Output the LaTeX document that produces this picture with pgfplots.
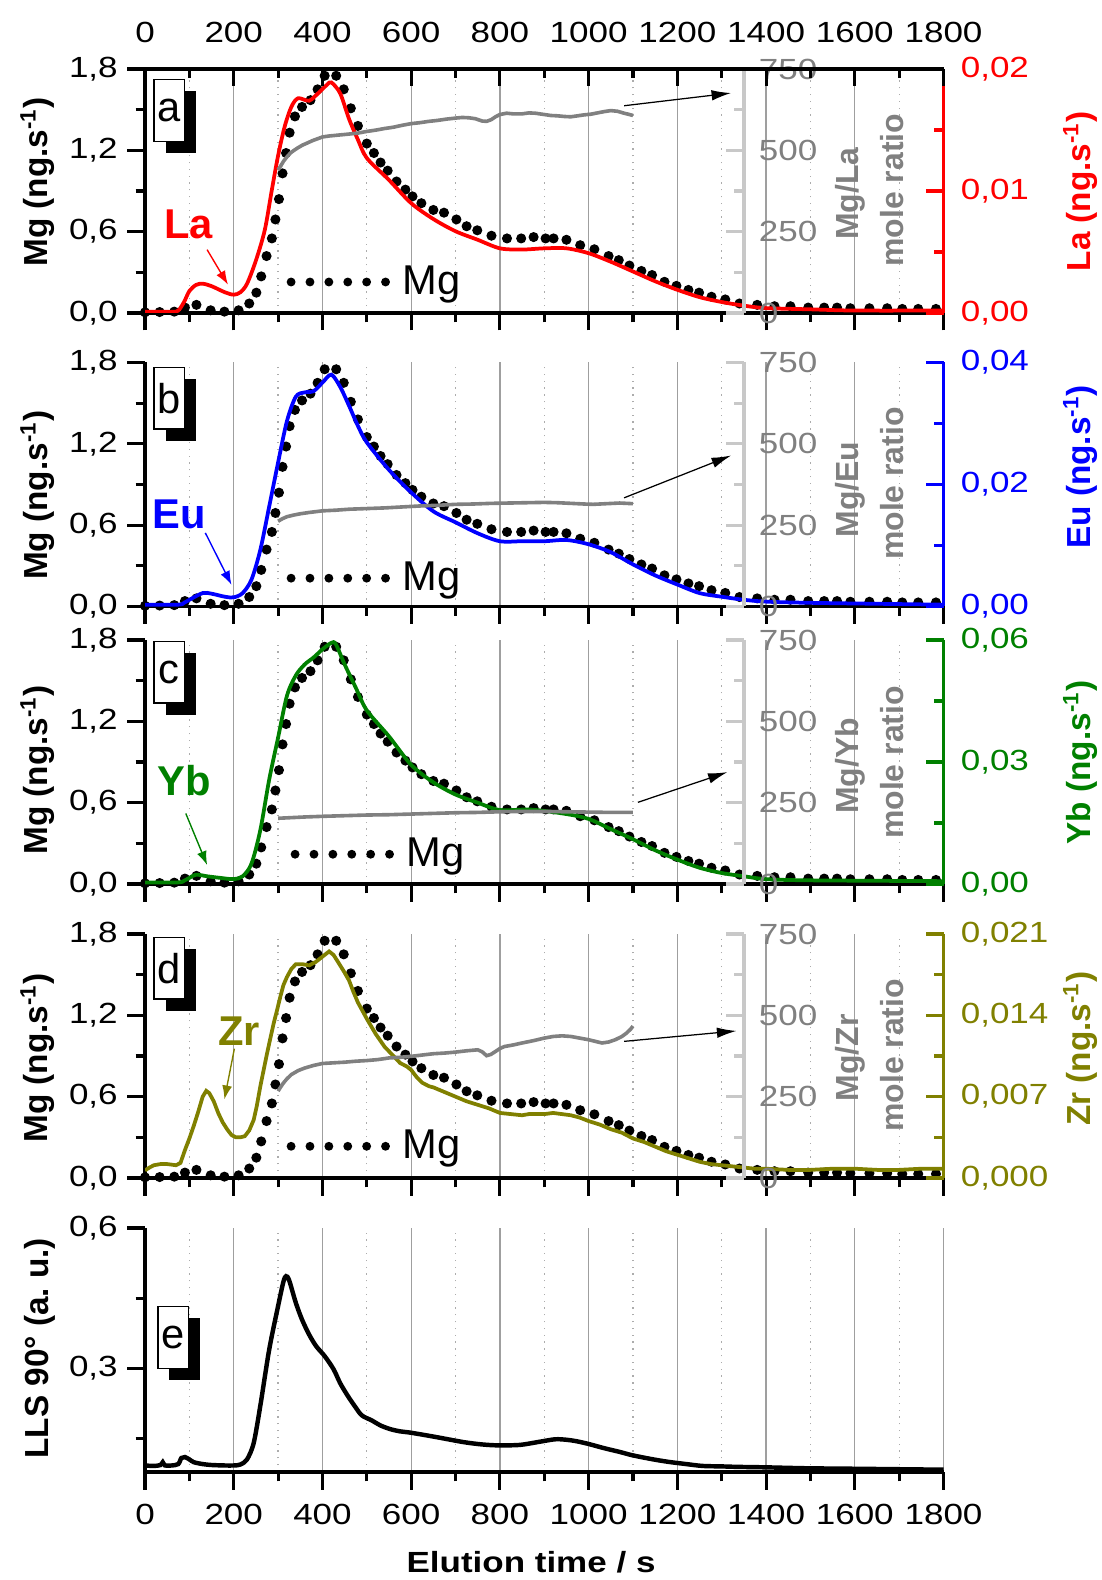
\documentclass[border=0pt]{standalone}
\usepackage{pgfplots}
\pgfplotsset{compat=1.18}
\usepackage{pgfplotstable}
\usepackage{fontspec}
\setmainfont{Liberation Sans}
\newfontfamily\tickfamily{Liberation Sans}[FakeStretch=1.2]
\usetikzlibrary{arrows.meta}

\definecolor{zrc}{RGB}{128,128,0}
\definecolor{ybc}{RGB}{0,128,0}
\definecolor{rgray}{RGB}{128,128,128}
\definecolor{lgray}{RGB}{200,200,200}
\newcommand{\tfont}{\tickfamily\fontsize{10.5}{12}\selectfont}
\newcommand{\rfont}{\fontsize{12}{14}\selectfont}
\newcommand{\mfont}{\fontsize{11.5}{13}\selectfont}
\newcommand{\lfont}{\fontsize{15}{16}\selectfont}

% letter, top offset, height, left offset
\newcommand{\plabel}[4]{%
  \fill[black] ([xshift=#4+4.4pt,yshift=-#2-4.4pt]rel axis cs:0,1) rectangle ++(10.9pt,-#3);
  \node[draw=black, line width=0.5pt, fill=white, anchor=north west, minimum width=10.9pt,
        minimum height=#3, inner sep=0pt, font=\lfont] at ([xshift=#4,yshift=-#2]rel axis cs:0,1) {#1};}

\pgfplotstableread{
t v
0 0.005
33 0.007
66 0.01
90 0.04
116 0.06
148 0.02
179 0.01
211 0.02
235 0.07
251 0.15
262 0.27
274 0.42
286 0.55
294 0.69
302 0.84
310 1.03
318 1.18
326 1.33
338 1.45
354 1.52
373 1.57
389 1.65
405 1.75
431 1.75
448 1.65
464 1.51
480 1.38
500 1.25
516 1.18
531 1.11
547 1.05
567 0.97
587 0.91
603 0.86
623 0.81
650 0.76
674 0.74
702 0.69
725 0.64
749 0.61
781 0.57
816 0.55
848 0.55
876 0.56
903 0.55
921 0.55
950 0.54
981 0.50
1013 0.47
1045 0.42
1068 0.39
1092 0.35
1119 0.31
1143 0.28
1171 0.23
1198 0.20
1225 0.17
1249 0.15
1277 0.12
1308 0.10
1340 0.07
1380 0.06
1419 0.05
1455 0.05
1495 0.04
1531 0.04
1560 0.04
1590 0.035
1633 0.035
1673 0.035
1707 0.03
1743 0.03
1783 0.03
}\mgdata

\pgfplotstableread{
t v
0 0.0001
60 0.0001
75 0.0002
88 0.0009
100 0.0018
115 0.0023
130 0.0024
150 0.0022
180 0.0017
200 0.0015
215 0.0017
230 0.0024
250 0.0043
270 0.0068
285 0.0099
300 0.0129
315 0.0153
330 0.0169
345 0.0176
370 0.0174
390 0.0180
410 0.0187
420 0.0189
440 0.0180
460 0.0159
480 0.0142
500 0.0127
550 0.0109
600 0.0090
650 0.0077
700 0.0067
750 0.0060
800 0.0053
850 0.0052
900 0.0053
950 0.0053
1000 0.0049
1050 0.0042
1100 0.0034
1150 0.0026
1200 0.0019
1250 0.0013
1300 0.0009
1350 0.0006
1400 0.0004
1500 0.0003
1600 0.0002
1800 0.0002
}\ladata

\pgfplotstableread{
t v
0 0.0003
75 0.0003
88 0.0006
100 0.0011
130 0.0022
150 0.0021
180 0.0016
200 0.0015
220 0.0022
240 0.0044
260 0.0093
280 0.0164
300 0.0236
320 0.0304
340 0.0344
360 0.0351
380 0.0353
400 0.0367
420 0.0380
440 0.0360
460 0.0329
480 0.0296
500 0.0269
550 0.0224
600 0.0187
650 0.0156
700 0.0138
750 0.0120
800 0.0107
850 0.0107
900 0.0107
950 0.0109
1000 0.0102
1050 0.0089
1100 0.0069
1150 0.0051
1200 0.0036
1250 0.0022
1300 0.0016
1350 0.0011
1400 0.0008
1500 0.0006
1800 0.0003
}\eudata

\pgfplotstableread{
t v
0 0.0004
75 0.0004
88 0.0008
100 0.0015
115 0.0023
140 0.0019
170 0.0015
200 0.0012
220 0.0019
240 0.0050
260 0.0133
280 0.0257
300 0.0360
320 0.0463
340 0.0513
360 0.0540
380 0.0557
400 0.0577
420 0.0593
430 0.0590
450 0.0540
475 0.0483
500 0.0427
550 0.0363
600 0.0293
650 0.0250
700 0.0220
750 0.0200
800 0.0182
870 0.0183
950 0.0172
1000 0.0160
1050 0.0135
1100 0.0110
1150 0.0083
1200 0.0060
1250 0.0040
1300 0.0027
1350 0.0019
1400 0.0012
1500 0.0009
1800 0.0007
}\ybdata

\pgfplotstableread{
t v
0 0.00065
10 0.0009
20 0.0011
35 0.0012
50 0.0012
70 0.0011
80 0.0013
90 0.0024
100 0.0034
110 0.0045
120 0.0057
130 0.0070
138 0.0075
145 0.0073
155 0.0066
165 0.0056
175 0.0048
185 0.0042
195 0.0037
205 0.0035
215 0.0035
225 0.0036
235 0.0041
245 0.0050
252 0.0062
260 0.0079
268 0.0094
275 0.0107
283 0.0121
290 0.0133
298 0.0145
305 0.0156
312 0.0166
320 0.0173
330 0.0180
340 0.0184
355 0.0184
370 0.0183
385 0.0186
395 0.0189
405 0.0192
415 0.0195
425 0.0192
435 0.0186
448 0.0178
460 0.0170
470 0.0160
480 0.0151
490 0.0144
500 0.0137
520 0.0124
540 0.0113
560 0.0105
575 0.0099
590 0.0096
600 0.0093
612 0.0087
625 0.0082
640 0.0079
650 0.0078
675 0.0074
700 0.0070
725 0.0066
750 0.0063
775 0.0060
800 0.0056
825 0.0055
850 0.0054
865 0.0055
880 0.0055
900 0.0055
920 0.0056
940 0.0055
960 0.0054
980 0.0052
1000 0.0049
1025 0.0046
1050 0.0042
1075 0.0039
1100 0.0034
1125 0.0031
1150 0.0027
1175 0.0023
1200 0.0020
1225 0.0017
1250 0.0014
1275 0.0012
1300 0.0011
1325 0.0010
1350 0.0009
1375 0.0008
1400 0.0008
1450 0.0007
1500 0.0007
1550 0.0008
1600 0.0008
1650 0.0007
1700 0.0007
1750 0.0008
1800 0.0008
}\zrdata

\pgfplotstableread{
t r
300 440
306 452
312 466
320 480
328 492
336 500
345 508
355 516
365 522
378 530
390 536
400 541
415 544
430 546
445 548
460 550
480 553
500 558
520 562
540 567
560 571
580 577
600 582
620 585
640 589
660 592
680 596
700 599
715 601
730 600
745 597
760 590
770 589
780 594
790 603
800 610
815 614
830 612
850 612
865 615
880 614
900 610
915 607
930 606
945 604
960 603
975 606
990 609
1005 611
1020 615
1035 619
1050 622
1065 620
1080 614
1092 610
1100 607
}\laratio

\pgfplotstableread{
t r
300 262
310 270
320 276
335 281
350 285
370 289
400 294
430 296
460 299
500 301
540 303
580 306
620 309
660 311
700 314
740 315
780 317
820 318
860 319
900 320
930 319
960 317
990 315
1010 314
1040 316
1070 318
1100 316
}\euratio

\pgfplotstableread{
t r
300 202
330 204
360 206
400 208
450 210
500 212
550 213
600 215
650 217
700 219
750 220
800 222
850 223
900 223
950 222
1000 221
1050 220
1100 220
}\ybratio

\pgfplotstableread{
t r
300 267
305 278
312 292
320 305
330 318
345 330
360 338
380 346
400 352
425 354
450 356
475 359
500 361
525 364
550 369
575 371
600 374
625 378
650 382
675 384
700 387
725 391
750 394
760 388
770 376
780 380
790 389
800 398
810 404
830 409
850 415
875 422
900 430
920 435
940 437
960 435
980 430
1000 425
1015 420
1030 415
1045 418
1060 425
1075 435
1085 445
1095 458
1100 467
}\zrratio

\pgfplotstableread{
t v
0 0.092
20 0.091
35 0.093
40 0.099
45 0.092
60 0.092
75 0.095
82 0.108
90 0.110
100 0.105
110 0.099
130 0.095
150 0.093
180 0.092
200 0.092
215 0.094
230 0.105
245 0.140
260 0.220
280 0.340
300 0.433
312 0.485
318 0.497
325 0.488
340 0.440
354 0.404
370 0.372
386 0.347
405 0.326
425 0.298
440 0.268
457 0.241
475 0.216
489 0.199
512 0.188
530 0.178
552 0.170
575 0.165
600 0.162
655 0.153
718 0.142
760 0.137
797 0.135
845 0.136
885 0.142
924 0.148
950 0.147
972 0.144
1000 0.138
1035 0.129
1070 0.121
1098 0.114
1140 0.106
1178 0.100
1220 0.095
1257 0.091
1300 0.090
1336 0.089
1400 0.088
1494 0.086
1600 0.085
1700 0.084
1800 0.083
}\llsdata

\pgfplotsset{
  panel/.style={scale only axis, width=287.46pt, height=87.84pt, anchor=south west,
    xmin=0, xmax=1800, clip mode=individual,
    scaled x ticks=false, scaled y ticks=false,
    /pgf/number format/assume math mode=true,
    every tick label/.append style={font=\tfont},
    major tick length=6.3pt, minor tick length=3.4pt},
  blackaxes/.style={axis line style={line width=1.1pt, black},
    tick style={line width=1.1pt, black}},
  xgrid/.style={xmajorgrids, xminorgrids,
    major grid style={line width=0.45pt, color=gray!75, solid},
    minor grid style={line width=0.45pt, color=gray!65, dotted}},
  mgaxis/.style={panel, blackaxes, xgrid, ymin=0, ymax=1.8,
    axis x line*=bottom, axis y line*=left, tick align=outside,
    xtick={0,200,...,1800}, minor xtick={100,300,...,1700}, xticklabels={},
    ytick={0,0.6,1.2,1.8}, yticklabels={{0,0},{0,6},{1,2},{1,8}},
    minor ytick={0.3,0.9,1.5},
    legend image code/.code={%
      \foreach \k in {0,...,5}{\fill[black, draw=none] (\k*6.8pt+1.6pt,0pt) circle[radius=1.6pt];}
      \path[draw=none] (0pt,0pt) -- (41.8pt,0pt);},
    legend style={draw=none, fill=none, anchor=west, inner sep=0pt,
      nodes={inner sep=0pt}, font=\fontsize{15}{16}\selectfont}},
  elaxis/.style={panel, axis x line=none, axis y line*=right, tick align=inside,
    y axis line style={#1, line width=1.1pt}, tick style={#1, line width=1.1pt},
    yticklabel style={text=#1, xshift=2.7pt}},
  ratioaxis/.style={scale only axis, width=215.6pt, height=87.84pt, anchor=south west,
    xmin=0, xmax=1350, ymin=0, ymax=750, clip mode=individual,
    axis x line=none, axis y line*=right, tick align=inside,
    y axis line style={lgray, line width=1.2pt}, tick style={lgray, line width=1.1pt},
    major tick length=6.3pt, minor tick length=3.4pt,
    ytick={0,250,500,750}, yticklabels={0,250,500,750}, minor ytick={125,375,625},
    yticklabel style={text=rgray, font=\tfont, xshift=1.9pt}},
}

\begin{document}
\begin{tikzpicture}
\useasboundingbox (0,0) rectangle (396.36pt,-568.8pt);

% ===================== panel a =====================
\begin{axis}[mgaxis, at={(52.2pt,-112.68pt)}, legend style={at={(axis description cs:0.1767,0.127)}}]
\addplot[only marks, mark=*, mark size=1.6pt, black] table[x=t,y=v] {\mgdata};
\addlegendentry{Mg}
\plabel{a}{3.6pt}{22.2pt}{3pt}
\node[text=red, font=\bfseries\lfont] at (axis cs:98,0.652) {La};
\draw[red, line width=0.5pt, -{Latex[length=5pt,width=3.6pt]}] (axis cs:140,0.467) -- (axis cs:187,0.209);
\node[rotate=90, font=\bfseries\rfont] at (axis description cs:-0.1345,0.537) {Mg (ng.s\textsuperscript{-1})};
\node[rotate=90, text=rgray, font=\bfseries\mfont] at (axis description cs:0.8835,0.489) {Mg/La};
\node[rotate=90, text=rgray, font=\bfseries\mfont] at (axis description cs:0.936,0.503) {mole ratio};
\node[rotate=90, text=red, font=\bfseries\rfont] at (axis description cs:1.1713,0.499) {La (ng.s\textsuperscript{-1})};
\end{axis}
\begin{axis}[elaxis=red, at={(52.2pt,-112.68pt)}, ymin=0, ymax=0.02,
  ytick={0,0.01,0.02}, yticklabels={{0,00},{0,01},{0,02}}, minor ytick={0.005,0.015}]
\addplot[red, line width=1.35pt, smooth] table[x=t,y=v] {\ladata};
\end{axis}
\begin{axis}[ratioaxis, at={(52.2pt,-112.68pt)}]
\addplot[rgray, line width=1.3pt] table[x=t,y=r] {\laratio};
\draw[black, line width=0.45pt, -{Latex[length=7pt,width=3.8pt]}] (axis cs:1080,637) -- (axis cs:1321,676);
\end{axis}
\begin{axis}[panel, blackaxes, at={(52.2pt,-112.68pt)}, ymin=0, ymax=1,
  axis y line=none, axis x line*=top, tick align=inside,
  xtick={0,200,...,1800}, minor xtick={100,300,...,1700},
  xticklabels={0,200,400,600,800,1000,1200,1400,1600,1800},
  xticklabel style={yshift=5.9pt}]
\end{axis}

% ===================== panel b =====================
\begin{axis}[mgaxis, at={(52.2pt,-218.34pt)}, legend style={at={(axis description cs:0.1767,0.116)}}]
\addplot[only marks, mark=*, mark size=1.6pt, black] table[x=t,y=v] {\mgdata};
\addlegendentry{Mg}
\plabel{b}{1.5pt}{22.2pt}{3pt}
\node[text=blue, font=\bfseries\lfont] at (axis cs:78,0.678) {Eu};
\draw[blue, line width=0.5pt, -{Latex[length=5pt,width=3.6pt]}] (axis cs:136,0.543) -- (axis cs:195,0.160);
\node[rotate=90, font=\bfseries\rfont] at (axis description cs:-0.1345,0.456) {Mg (ng.s\textsuperscript{-1})};
\node[rotate=90, text=rgray, font=\bfseries\mfont] at (axis description cs:0.8835,0.479) {Mg/Eu};
\node[rotate=90, text=rgray, font=\bfseries\mfont] at (axis description cs:0.936,0.504) {mole ratio};
\node[rotate=90, text=blue, font=\bfseries\rfont] at (axis description cs:1.1713,0.572) {Eu (ng.s\textsuperscript{-1})};
\end{axis}
\begin{axis}[elaxis=blue, at={(52.2pt,-218.34pt)}, ymin=0, ymax=0.04,
  ytick={0,0.02,0.04}, yticklabels={{0,00},{0,02},{0,04}}, minor ytick={0.01,0.03}]
\addplot[blue, line width=1.35pt, smooth] table[x=t,y=v] {\eudata};
\end{axis}
\begin{axis}[ratioaxis, at={(52.2pt,-218.34pt)}]
\addplot[rgray, line width=1.3pt] table[x=t,y=r] {\euratio};
\draw[black, line width=0.45pt, -{Latex[length=7pt,width=3.8pt]}] (axis cs:1080,334) -- (axis cs:1321,464);
\end{axis}

% ===================== panel c =====================
\begin{axis}[mgaxis, at={(52.2pt,-318.24pt)}, legend style={at={(axis description cs:0.1817,0.122)}}]
\addplot[only marks, mark=*, mark size=1.6pt, black] table[x=t,y=v] {\mgdata};
\addlegendentry{Mg}
\plabel{c}{0.25pt}{22.2pt}{3pt}
\node[text=ybc, font=\bfseries\lfont] at (axis cs:88,0.76) {Yb};
\draw[ybc, line width=0.5pt, -{Latex[length=5pt,width=3.6pt]}] (axis cs:92,0.52) -- (axis cs:140,0.14);
\node[rotate=90, font=\bfseries\rfont] at (axis description cs:-0.1345,0.467) {Mg (ng.s\textsuperscript{-1})};
\node[rotate=90, text=rgray, font=\bfseries\mfont] at (axis description cs:0.8835,0.484) {Mg/Yb};
\node[rotate=90, text=rgray, font=\bfseries\mfont] at (axis description cs:0.936,0.498) {mole ratio};
\node[rotate=90, text=ybc, font=\bfseries\rfont] at (axis description cs:1.1713,0.498) {Yb (ng.s\textsuperscript{-1})};
\end{axis}
\begin{axis}[elaxis=ybc, at={(52.2pt,-318.24pt)}, ymin=0, ymax=0.06,
  ytick={0,0.03,0.06}, yticklabels={{0,00},{0,03},{0,06}}, minor ytick={0.015,0.045}]
\addplot[ybc, line width=1.35pt, smooth] table[x=t,y=v] {\ybdata};
\end{axis}
\begin{axis}[ratioaxis, at={(52.2pt,-318.24pt)}]
\addplot[rgray, line width=1.3pt] table[x=t,y=r] {\ybratio};
\draw[black, line width=0.45pt, -{Latex[length=7pt,width=3.8pt]}] (axis cs:1111,251) -- (axis cs:1313,344);
\end{axis}

% ===================== panel d =====================
\begin{axis}[mgaxis, at={(52.2pt,-424.08pt)}, legend style={at={(axis description cs:0.1767,0.130)}}]
\addplot[only marks, mark=*, mark size=1.6pt, black] table[x=t,y=v] {\mgdata};
\addlegendentry{Mg}
\plabel{d}{1pt}{22.2pt}{3pt}
\node[text=zrc, font=\bfseries\lfont] at (axis cs:212.6,1.08) {Zr};
\draw[zrc, line width=0.5pt, -{Latex[length=5pt,width=3.6pt]}] (axis cs:201.5,0.954) -- (axis cs:179,0.58);
\node[rotate=90, font=\bfseries\rfont] at (axis description cs:-0.1345,0.492) {Mg (ng.s\textsuperscript{-1})};
\node[rotate=90, text=rgray, font=\bfseries\mfont] at (axis description cs:0.8835,0.492) {Mg/Zr};
\node[rotate=90, text=rgray, font=\bfseries\mfont] at (axis description cs:0.936,0.503) {mole ratio};
\node[rotate=90, text=zrc, font=\bfseries\rfont] at (axis description cs:1.1713,0.530) {Zr (ng.s\textsuperscript{-1})};
\end{axis}
\begin{axis}[elaxis=zrc, at={(52.2pt,-424.08pt)}, ymin=0, ymax=0.021,
  ytick={0,0.007,0.014,0.021}, yticklabels={{0,000},{0,007},{0,014},{0,021}},
  minor ytick={0.0035,0.0105,0.0175}]
\addplot[zrc, line width=1.35pt] table[x=t,y=v] {\zrdata};
\end{axis}
\begin{axis}[ratioaxis, at={(52.2pt,-424.08pt)}]
\addplot[rgray, line width=1.3pt] table[x=t,y=r] {\zrratio};
\draw[black, line width=0.45pt, -{Latex[length=7pt,width=3.8pt]}] (axis cs:1080,420) -- (axis cs:1333,452);
\end{axis}

% ===================== panel e =====================
\begin{axis}[panel, blackaxes, xgrid, at={(52.2pt,-529.92pt)}, ymin=0.078, ymax=0.6,
  axis x line*=bottom, axis y line*=left, tick align=outside,
  xtick={0,200,...,1800}, minor xtick={100,300,...,1700},
  xticklabels={0,200,400,600,800,1000,1200,1400,1600,1800},
  xticklabel style={yshift=-1.6pt},
  ytick={0.3,0.6}, yticklabels={{0,3},{0,6}}, minor ytick={0.15,0.45}]
\addplot[black, line width=1.6pt, smooth] table[x=t,y=v] {\llsdata};
\plabel{e}{28.1pt}{22.2pt}{4.4pt}
\node[rotate=90, font=\bfseries\rfont] at (axis description cs:-0.1315,0.507) {LLS 90° (a.\ u.)};
\node[font=\tickfamily\bfseries\fontsize{10.5}{12}\selectfont] at (axis description cs:0.4834,-0.369) {Elution time / s};
\end{axis}
\end{tikzpicture}
\end{document}
